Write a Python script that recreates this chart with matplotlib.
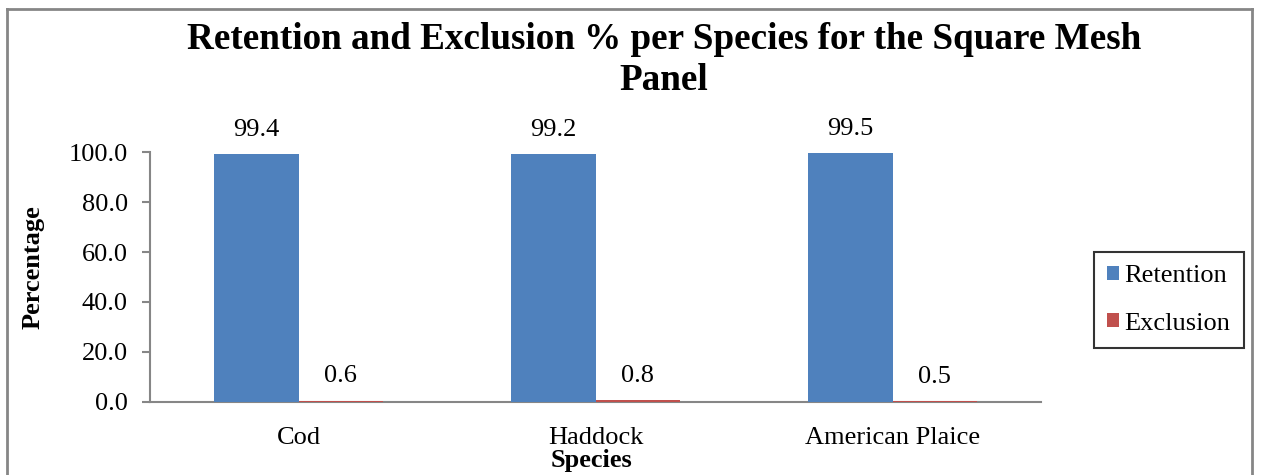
import matplotlib
matplotlib.use("Agg")
import matplotlib.pyplot as plt
from matplotlib.lines import Line2D
import numpy as np

species = ["Cod", "Haddock", "American Plaice"]
retention = [99.4, 99.2, 99.5]
exclusion = [0.6, 0.8, 0.5]
series_names = ["Retention", "Exclusion"]
y_ticks = [0, 20, 40, 60, 80, 100]

BLUE = "#4F81BD"
RED = "#C0504D"
AXIS_GRAY = "#868686"
FS = 19

plt.rcParams["font.family"] = ["Liberation Serif", "DejaVu Serif"]

W, H = 1261, 475
fig = plt.figure(figsize=(W / 100, H / 100), dpi=100)
fig.patch.set_facecolor("white")

# outer chart-area frame (bottom edge lies below the canvas)
for xs, ys in [([7, 7], [9, H + 5]), ([7, 1252], [9, 9]), ([1252, 1252], [9, H + 5])]:
    fig.add_artist(Line2D([x / W for x in xs], [1 - y / H for y in ys],
                          transform=fig.transFigure, color=AXIS_GRAY, lw=2))

ax = fig.add_axes([150 / W, 1 - 402 / H, (1041 - 150) / W, (402 - 152) / H])

x = np.arange(len(species))
bw = 0.285
b1 = ax.bar(x - bw / 2, retention, bw, color=BLUE, label=series_names[0], zorder=3)
b2 = ax.bar(x + bw / 2, exclusion, bw, color=RED, label=series_names[1], zorder=3)

for bars, vals in [(b1, retention), (b2, exclusion)]:
    for rect, v in zip(bars, vals):
        ax.annotate(f"{v:.1f}", (rect.get_x() + rect.get_width() / 2, v),
                    xytext=(0, 24), textcoords="offset pixels",
                    ha="center", va="center", fontsize=FS, clip_on=False)

ax.set_xlim(-0.5, len(species) - 0.5)
ax.set_ylim(0, 100)
ax.set_yticks(y_ticks)
ax.set_yticklabels([f"{t:.1f}" for t in y_ticks], fontsize=FS)
ax.set_xticks(x)
ax.set_xticklabels(species, fontsize=FS)
ax.tick_params(axis="x", length=0, pad=18)
ax.tick_params(axis="y", length=6, width=1.5, color=AXIS_GRAY, pad=10, direction="out")

for s in ["top", "right"]:
    ax.spines[s].set_visible(False)
for s in ["left", "bottom"]:
    ax.spines[s].set_color(AXIS_GRAY)
    ax.spines[s].set_linewidth(1.5)

fig.text(33 / W, 1 - 267 / H, "Percentage", rotation=90, ha="center", va="center",
         fontsize=FS, fontweight="bold")
fig.text(592 / W, 1 - 460 / H, "Species", ha="center", va="center",
         fontsize=FS, fontweight="bold")

fig.text(664 / W, 1 - 60 / H,
         "Retention and Exclusion % per Species for the Square Mesh\nPanel",
         ha="center", va="center", multialignment="center",
         fontsize=26.7, fontweight="bold", linespacing=1.25)

leg = fig.legend(handles=[b1, b2], labels=series_names,
                 loc="center", bbox_to_anchor=(1169 / W, 1 - 300 / H),
                 fontsize=FS, frameon=True, fancybox=False,
                 edgecolor="black", handlelength=0.45, handleheight=0.45,
                 handletextpad=0.2, labelspacing=0.95, borderpad=0.5,
                 borderaxespad=0)
leg.get_frame().set_linewidth(1.5)

fig.savefig("out.png", dpi=100)
